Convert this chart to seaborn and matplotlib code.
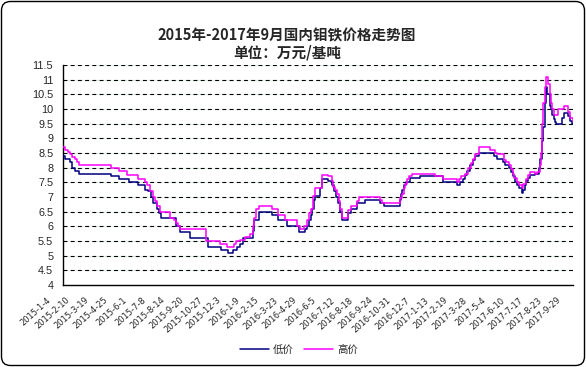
import matplotlib
matplotlib.use("Agg")
import matplotlib.pyplot as plt
import matplotlib.patches as mpatches
import matplotlib.transforms as mtransforms
import seaborn as sns
import pandas as pd

# ---------------- data ----------------
title_line1 = "2015年-2017年9月国内钼铁价格走势图"
title_line2 = "单位：万元/基吨"
series_names = ["低价", "高价"]

low_dates = [
    "2015-01-04", "2015-01-08", "2015-01-18", "2015-01-22", "2015-01-28", "2015-02-04",
    "2015-04-09", "2015-04-24", "2015-05-14", "2015-05-30", "2015-06-14", "2015-06-20",
    "2015-06-25", "2015-06-30", "2015-07-07", "2015-07-11", "2015-07-15", "2015-08-13",
    "2015-08-21", "2015-09-10", "2015-10-15", "2015-11-10", "2015-11-23", "2015-12-03",
    "2015-12-11", "2015-12-16", "2015-12-23", "2016-01-11", "2016-01-13", "2016-01-22",
    "2016-02-17", "2016-03-01", "2016-03-17", "2016-04-11", "2016-04-22", "2016-04-25",
    "2016-04-29", "2016-05-03", "2016-05-06", "2016-05-09", "2016-05-12", "2016-05-22",
    "2016-05-26", "2016-06-07", "2016-06-14", "2016-06-17", "2016-06-22", "2016-06-25",
    "2016-06-30", "2016-07-04", "2016-07-16", "2016-07-21", "2016-08-02", "2016-08-18",
    "2016-09-16", "2016-09-23", "2016-10-26", "2016-10-28", "2016-10-30", "2016-11-02",
    "2016-11-06", "2016-11-13", "2016-12-04", "2017-01-18", "2017-02-14", "2017-02-20",
    "2017-02-25", "2017-03-02", "2017-03-05", "2017-03-12", "2017-03-17", "2017-03-22",
    "2017-03-28", "2017-04-28", "2017-05-03", "2017-05-15", "2017-05-19", "2017-05-26",
    "2017-05-31", "2017-06-04", "2017-06-08", "2017-06-11", "2017-06-16", "2017-06-21",
    "2017-06-24", "2017-06-26", "2017-06-29", "2017-07-02", "2017-07-06", "2017-07-17",
    "2017-07-24", "2017-07-27", "2017-07-30", "2017-08-02", "2017-08-06", "2017-08-08",
    "2017-08-10", "2017-08-14", "2017-08-16", "2017-08-19", "2017-08-22", "2017-08-25",
    "2017-08-27", "2017-09-07", "2017-09-11", "2017-09-20", "2017-09-24", "2017-09-27",
    "2017-09-30",
]
low_vals = [
    8.4, 8.3, 8.2, 8.0, 7.9, 7.8,
    7.7, 7.6, 7.5, 7.4, 7.25, 7.2,
    7.0, 6.8, 6.6, 6.45, 6.3, 6.0,
    5.8, 5.6, 5.3, 5.2, 5.1, 5.2,
    5.3, 5.4, 5.6, 5.85, 6.2, 6.5,
    6.4, 6.2, 6.0, 5.8, 5.9, 6.0,
    6.2, 6.4, 6.6, 6.9, 7.05, 7.3,
    7.6, 7.55, 7.4, 7.2, 7.0, 6.8,
    6.5, 6.2, 6.45, 6.6, 6.8, 6.9,
    6.8, 6.7, 6.9, 7.1, 7.25, 7.4,
    7.5, 7.65, 7.7, 7.5, 7.4, 7.5,
    7.6, 7.75, 7.9, 8.1, 8.25, 8.4,
    8.5, 8.4, 8.3, 8.2, 8.1, 8.0,
    7.85, 7.7, 7.5, 7.4, 7.3, 7.15,
    7.25, 7.4, 7.55, 7.65, 7.75, 7.8,
    8.0, 8.3, 8.9, 9.4, 10.2, 10.75,
    10.5, 10.1, 10.0, 9.8, 9.65, 9.55,
    9.5, 9.7, 9.85, 9.75, 9.6, 9.5,
    9.5,
]

high_dates = [
    "2015-01-04", "2015-01-08", "2015-01-14", "2015-01-18", "2015-01-22", "2015-01-27",
    "2015-02-01", "2015-02-05", "2015-04-09", "2015-04-24", "2015-05-09", "2015-05-30",
    "2015-06-14", "2015-06-18", "2015-06-23", "2015-06-30", "2015-07-04", "2015-07-08",
    "2015-07-13", "2015-08-02", "2015-08-09", "2015-08-13", "2015-08-17", "2015-08-21",
    "2015-10-12", "2015-11-08", "2015-11-21", "2015-12-04", "2015-12-09", "2015-12-17",
    "2015-12-27", "2016-01-05", "2016-01-12", "2016-01-14", "2016-01-17", "2016-01-22",
    "2016-02-17", "2016-03-01", "2016-03-14", "2016-04-06", "2016-04-12", "2016-04-20",
    "2016-04-25", "2016-04-29", "2016-05-03", "2016-05-07", "2016-05-12", "2016-05-26",
    "2016-06-07", "2016-06-14", "2016-06-16", "2016-06-20", "2016-06-24", "2016-06-28",
    "2016-06-30", "2016-07-03", "2016-07-04", "2016-07-16", "2016-07-21", "2016-08-02",
    "2016-08-05", "2016-09-16", "2016-09-20", "2016-10-26", "2016-10-30", "2016-11-01",
    "2016-11-04", "2016-11-08", "2016-11-11", "2016-11-17", "2017-01-02", "2017-01-18",
    "2017-02-14", "2017-02-18", "2017-02-22", "2017-03-02", "2017-03-08", "2017-03-13",
    "2017-03-17", "2017-03-22", "2017-03-28", "2017-04-20", "2017-04-30", "2017-05-04",
    "2017-05-16", "2017-05-21", "2017-05-26", "2017-05-31", "2017-06-03", "2017-06-06",
    "2017-06-11", "2017-06-16", "2017-06-21", "2017-06-24", "2017-06-28", "2017-07-02",
    "2017-07-06", "2017-07-17", "2017-07-21", "2017-07-27", "2017-07-29", "2017-07-31",
    "2017-08-02", "2017-08-06", "2017-08-08", "2017-08-12", "2017-08-14", "2017-08-16",
    "2017-08-19", "2017-08-23", "2017-08-30", "2017-09-11", "2017-09-20", "2017-09-24",
    "2017-09-29", "2017-09-30",
]
high_vals = [
    8.7, 8.6, 8.55, 8.45, 8.35, 8.3,
    8.2, 8.1, 8.0, 7.9, 7.75, 7.6,
    7.5, 7.4, 7.2, 7.0, 6.85, 6.7,
    6.5, 6.3, 6.2, 6.1, 6.0, 5.9,
    5.5, 5.4, 5.3, 5.4, 5.5, 5.55,
    5.65, 5.75, 6.0, 6.3, 6.6, 6.7,
    6.6, 6.4, 6.2, 6.0, 5.9, 6.0,
    6.2, 6.45, 6.6, 7.05, 7.3, 7.75,
    7.7, 7.55, 7.35, 7.25, 7.1, 6.85,
    6.6, 6.45, 6.3, 6.55, 6.7, 6.85,
    7.0, 6.9, 6.8, 6.95, 7.1, 7.3,
    7.45, 7.6, 7.7, 7.8, 7.7, 7.6,
    7.5, 7.6, 7.7, 7.8, 8.0, 8.15,
    8.3, 8.45, 8.7, 8.6, 8.5, 8.45,
    8.25, 8.2, 8.1, 7.95, 7.8, 7.65,
    7.5, 7.4, 7.3, 7.45, 7.6, 7.75,
    7.85, 7.8, 7.85, 8.1, 8.5, 9.5,
    10.2, 10.75, 11.1, 10.85, 10.5, 10.2,
    10.0, 9.8, 10.0, 10.1, 9.9, 9.7,
    9.6, 9.6,
]

tick_labels = [
    "2015-1-4", "2015-2-10", "2015-3-19", "2015-4-25", "2015-6-1", "2015-7-8",
    "2015-8-14", "2015-9-20", "2015-10-27", "2015-12-3", "2016-1-9", "2016-2-15",
    "2016-3-23", "2016-4-29", "2016-6-5", "2016-7-12", "2016-8-18", "2016-9-24",
    "2016-10-31", "2016-12-7", "2017-1-13", "2017-2-19", "2017-3-28", "2017-5-4",
    "2017-6-10", "2017-7-17", "2017-8-23", "2017-9-29",
]
y_ticks = [4, 4.5, 5, 5.5, 6, 6.5, 7, 7.5, 8, 8.5, 9, 9.5, 10, 10.5, 11, 11.5]
colors = {"低价": "#000080", "高价": "#FF00FF"}

# ---------------- figure ----------------
sns.set_style("white")
plt.rcParams["font.family"] = ["Liberation Sans", "Noto Sans CJK SC", "DejaVu Sans"]
cjk = ["Noto Sans CJK SC", "DejaVu Sans"]

W, H = 586, 367
fig = plt.figure(figsize=(W / 100, H / 100), dpi=100)
fig.patch.set_facecolor("white")
ax = fig.add_axes([63 / W, 1 - 285 / H, (573 - 63) / W, (285 - 65) / H])
ax.set_facecolor("white")

df = pd.concat([
    pd.DataFrame({"date": pd.to_datetime(low_dates), "price": low_vals, "series": series_names[0]}),
    pd.DataFrame({"date": pd.to_datetime(high_dates), "price": high_vals, "series": series_names[1]}),
], ignore_index=True)

# gridlines (pale green base with black dashes, Excel style)
ax.hlines(y_ticks[1:], 0, 1, transform=ax.get_yaxis_transform(), colors="#E2F4E2", lw=0.8, zorder=1)
for yv in y_ticks[1:]:
    ax.axhline(yv, color="black", lw=0.8, dashes=(3.5, 3), zorder=1.5, snap=True)

sns.lineplot(data=df, x="date", y="price", hue="series", palette=colors,
             hue_order=series_names, estimator=None, errorbar=None,
             drawstyle="steps-post", linewidth=1.1, ax=ax, legend=False, zorder=3)

tick_dates = pd.to_datetime(tick_labels, format="%Y-%m-%d")
ax.set_xlim(tick_dates[0], tick_dates[-1])
ax.set_ylim(4, 11.5)
ax.set_xticks(tick_dates)
ax.set_xticklabels(tick_labels, rotation=42, ha="right", va="center",
                   rotation_mode="anchor", fontsize=6.0, family="DejaVu Sans")
ax.set_yticks(y_ticks)
ax.set_yticklabels([f"{v:g}" for v in y_ticks], fontsize=7.8)
ax.set_xlabel("")
ax.set_ylabel("")

ax.tick_params(axis="x", direction="in", length=3, width=0.8, color="black", pad=10)
ax.tick_params(axis="y", length=0, pad=7)
for s in ["top", "right"]:
    ax.spines[s].set_visible(False)
for s in ["left", "bottom"]:
    ax.spines[s].set_color("black")
    ax.spines[s].set_linewidth(1.0)

offset = mtransforms.ScaledTranslation(-13 / 100, 0, fig.dpi_scale_trans)
for lab in ax.get_xticklabels():
    lab.set_transform(lab.get_transform() + offset)

# titles
fig.text(0.49, 1 - 35 / H, title_line1, ha="center", va="center", fontsize=10.5,
         fontweight="bold", family=cjk)
fig.text(0.49, 1 - 53 / H, title_line2, ha="center", va="center", fontsize=10.5,
         fontweight="bold", family=cjk)

# legend
handles = [plt.Line2D([], [], color=colors[n], lw=1.1) for n in series_names]
leg = fig.legend(handles, series_names, loc="center", bbox_to_anchor=(299 / W, 1 - 350 / H),
                 ncol=2, frameon=False, handlelength=2.8, handletextpad=0.4,
                 columnspacing=1.0, prop={"family": cjk, "size": 7.5})

# chart border with rounded corners
border = mpatches.FancyBboxPatch((1.5, 1.5), W - 3, H - 3,
                                 boxstyle="round,pad=0,rounding_size=9",
                                 transform=mtransforms.IdentityTransform(),
                                 facecolor="none", edgecolor="black", lw=1.0)
fig.add_artist(border)

fig.savefig("out.png", dpi=100, facecolor="white")
